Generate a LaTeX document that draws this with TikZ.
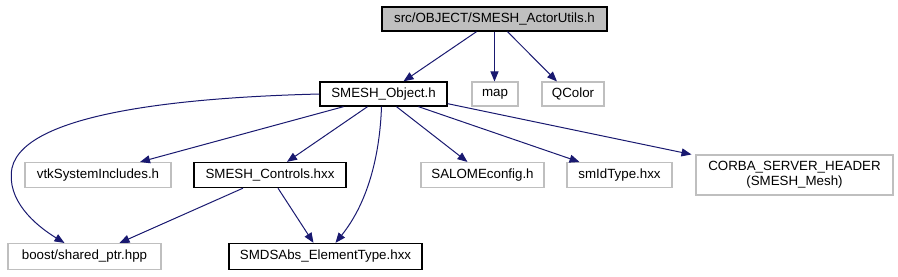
\documentclass[tikz,border=0pt]{standalone}
\usepackage{fontspec}
\setmainfont{Liberation Sans}
\usetikzlibrary{arrows.meta,calc}
\definecolor{edgeblue}{HTML}{191970}
\definecolor{boxgray}{HTML}{BFBFBF}
\definecolor{topfill}{HTML}{BFBFBF}
\begin{document}
\begin{tikzpicture}[x=0.75pt,y=-0.75pt,
  box/.style={draw=boxgray,line width=0.8pt,rectangle,inner sep=0pt,minimum height=18.75pt,font=\fontsize{10pt}{11.5pt}\selectfont,align=center},
  linked/.style={box,draw=black,line width=1pt},
  dep/.style={draw=edgeblue,line width=0.75pt,-{Triangle[length=7.5pt,width=6pt]}}]
\useasboundingbox (0,0) rectangle (898,276);
\node[linked,fill=topfill,minimum width=168.75pt,minimum height=18pt] (top) at (494.5,19) {src/OBJECT/SMESH\_ActorUtils.h};
\node[linked,minimum width=95.25pt,minimum height=18pt] (obj) at (383.5,94) {SMESH\_Object.h};
\node[box,minimum width=34.5pt,minimum height=18pt] (map) at (495,94) {map};
\node[box,minimum width=46.5pt,minimum height=18pt] (qcol) at (573,94) {QColor};
\node[box,minimum width=109.5pt] (vtk) at (98,175) {vtkSystemIncludes.h};
\node[linked,minimum width=114pt] (ctl) at (270,175) {SMESH\_Controls.hxx};
\node[box,minimum width=92.25pt] (salome) at (482.5,175) {SALOMEconfig.h};
\node[box,minimum width=78.75pt] (smid) at (619.5,175) {smIdType.hxx};
\node[box,minimum width=147.75pt,minimum height=30pt] (corba) at (794.5,175) {CORBA\_SERVER\_HEADER\\(SMESH\_Mesh)};
\node[box,minimum width=114.75pt,minimum height=19.5pt] (boost) at (84.5,256.5) {boost/shared\_ptr.hpp};
\node[linked,minimum width=144.75pt,minimum height=19.5pt] (smds) at (325.5,256.5) {SMDSAbs\_ElementType.hxx};
% edges from top
\draw[dep] ($(top.south)+(-18,0)$) -- ($(obj.north)+(20,0)$);
\draw[dep] ($(top.south)+(0,0)$) -- ($(map.north)+(-0.5,0)$);
\draw[dep] ($(top.south)+(13,0)$) -- ($(qcol.north)+(-16,0)$);
% edges from obj
\draw[dep] (obj.west) .. controls (200,97) and (25,110) .. (12,168) .. controls (6,200) and (35,225) .. ($(boost.north)+(-20,0)$);
\draw[dep] ($(obj.south)+(-40,0)$) -- ($(vtk.north)+(42,0)$);
\draw[dep] ($(obj.south)+(-16,0)$) -- ($(ctl.north)+(17,0)$);
\draw[dep] ($(obj.south)+(-2,0)$) .. controls (380,150) and (370,200) .. ($(smds.north)+(10,0)$);
\draw[dep] ($(obj.south)+(13,0)$) -- ($(salome.north)+(-15,0)$);
\draw[dep] ($(obj.south)+(35,0)$) -- ($(smid.north)+(-40,0)$);
\draw[dep] ($(obj.south east)+(0,-3)$) -- ($(corba.north west)+(-4,0)$);
% edges from controls
\draw[dep] ($(ctl.south)+(-27,0)$) -- ($(boost.north)+(35,0)$);
\draw[dep] ($(ctl.south)+(8,0)$) -- ($(smds.north)+(-12,0)$);
\end{tikzpicture}
\end{document}
